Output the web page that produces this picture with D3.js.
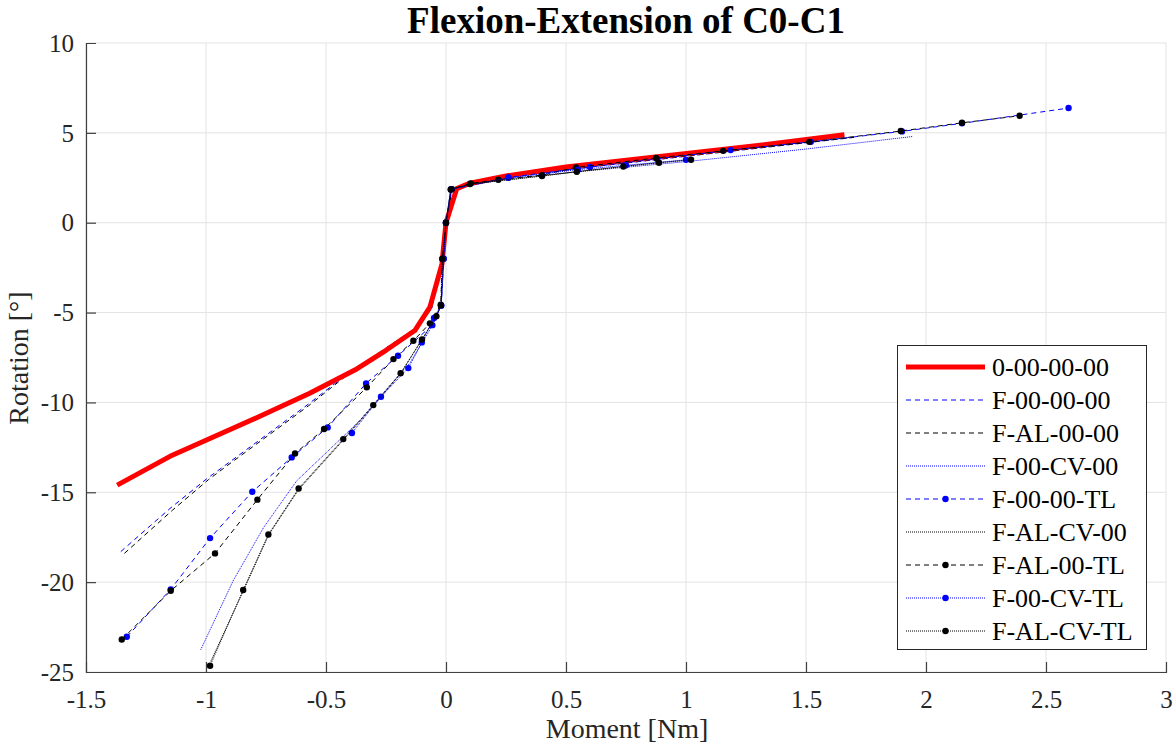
<!DOCTYPE html>
<html><head><meta charset="utf-8">
<script src="https://cdn.jsdelivr.net/npm/d3@7"></script>
<style>body{margin:0;background:#fff}svg{display:block}</style>
</head><body>
<script>
// ---- data ----
const xTicks = [-1.5,-1,-0.5,0,0.5,1,1.5,2,2.5,3];
const xTickLabels = ["-1.5","-1","-0.5","0","0.5","1","1.5","2","2.5","3"];
const yTicks = [-25,-20,-15,-10,-5,0,5,10];
const yTickLabels = ["-25","-20","-15","-10","-5","0","5","10"];
const seriesNames = ["0-00-00-00","F-00-00-00","F-AL-00-00","F-00-CV-00","F-00-00-TL","F-AL-CV-00","F-AL-00-TL","F-00-CV-TL","F-AL-CV-TL"];

const s0_00_00_00 = [[-1.37,-14.6],[-1.15,-13.0],[-1.0,-12.1],[-0.78,-10.8],[-0.57,-9.5],[-0.38,-8.2],[-0.25,-7.1],[-0.13,-6.0],[-0.067,-4.7],[-0.017,-2.3],[0,0],[0.045,1.9],[0.1,2.2],[0.25,2.6],[0.5,3.1],[0.9,3.7],[1.3,4.3],[1.66,4.9]];
const sF_00_00_00 = [[-1.355,-18.3],[-1.15,-15.9],[-0.997,-14.25],[-0.9,-13.3],[-0.574,-10.1],[-0.4,-8.3],[-0.247,-6.95],[-0.13,-5.9],[-0.06,-4.8],[-0.02,-2.2],[0,0],[0.025,1.9],[0.1,2.2],[0.3,2.6],[0.6,3.1],[1.0,3.7],[1.4,4.3],[1.7,4.75]];
const sF_AL_00_00 = [[-1.34,-18.4],[-1.14,-16.0],[-0.99,-14.3],[-0.9,-13.4],[-0.574,-10.2],[-0.4,-8.35],[-0.247,-6.95],[-0.13,-5.9],[-0.06,-4.8],[-0.02,-2.2],[0,0],[0.025,1.9],[0.1,2.2],[0.3,2.6],[0.6,3.1],[1.0,3.7],[1.4,4.3],[1.7,4.75]];
const sF_00_CV_00 = [[-1.022,-23.76],[-0.886,-19.9],[-0.76,-16.96],[-0.622,-14.36],[-0.358,-11.0],[-0.25,-9.3],[-0.15,-7.8],[-0.06,-5.8],[-0.02,-4.6],[-0.008,-2.0],[0,0],[0.02,1.85],[0.25,2.45],[0.6,2.9],[1.0,3.4],[1.5,4.1],[1.946,4.8]];
const sF_00_00_TL = [[-1.33,-23.04],[-1.147,-20.4],[-0.983,-17.55],[-0.807,-14.97],[-0.643,-13.06],[-0.493,-11.39],[-0.333,-8.94],[-0.2,-7.4],[-0.057,-5.7],[-0.02,-4.6],[-0.01,-2.0],[0,0],[0.024,1.87],[0.26,2.52],[0.6,3.1],[0.88,3.55],[1.186,4.04],[1.52,4.5],[1.9,5.08],[2.15,5.53],[2.594,6.38]];
const sF_AL_CV_00 = [[-0.98,-24.4],[-0.845,-20.5],[-0.74,-17.4],[-0.614,-14.85],[-0.428,-12.1],[-0.303,-10.2],[-0.189,-8.4],[-0.1,-6.5],[-0.04,-5.2],[-0.02,-4.5],[-0.01,-2.0],[0,0],[0.02,1.85],[0.1,2.15],[0.4,2.6],[0.545,2.84],[0.739,3.13],[0.8875,3.34],[1.021,3.5]];
const sF_AL_00_TL = [[-1.351,-23.19],[-1.147,-20.48],[-0.9625,-18.4],[-0.786,-15.41],[-0.629,-12.84],[-0.508,-11.48],[-0.33,-9.16],[-0.219,-7.59],[-0.136,-6.57],[-0.067,-5.6],[-0.022,-4.56],[-0.015,-2.0],[0,0],[0.024,1.87],[0.103,2.19],[0.218,2.39],[0.401,2.65],[0.542,3.08],[0.875,3.6],[1.155,4.0],[1.514,4.5],[1.895,5.1],[2.15,5.56],[2.39,5.95]];
const sF_00_CV_TL = [[-0.392,-11.7],[-0.271,-9.68],[-0.157,-8.09],[-0.101,-6.66],[-0.05,-5.3],[-0.02,-4.6],[-0.01,-2.0],[0,0],[0.02,1.85],[0.26,2.5],[0.55,2.95],[0.75,3.2],[1.0,3.5]];
const sF_AL_CV_TL = [[-0.983,-24.65],[-0.845,-20.44],[-0.74,-17.35],[-0.614,-14.79],[-0.428,-12.04],[-0.303,-10.15],[-0.189,-8.37],[-0.1,-6.5],[-0.04,-5.2],[-0.021,-4.6],[-0.015,-2.0],[0,0],[0.02,1.85],[0.1,2.15],[0.4,2.6],[0.545,2.84],[0.739,3.13],[0.8875,3.34],[1.021,3.5]];

const seriesData = [s0_00_00_00,sF_00_00_00,sF_AL_00_00,sF_00_CV_00,sF_00_00_TL,sF_AL_CV_00,sF_AL_00_TL,sF_00_CV_TL,sF_AL_CV_TL];
const styles = [
  {c:"#ff0000", w:5, dash:null, m:false},
  {c:"#0000ff", w:1, dash:"5,4", m:false},
  {c:"#000000", w:1, dash:"5,4", m:false},
  {c:"#0000ff", w:1, dash:"1,1", m:false},
  {c:"#0000ff", w:1, dash:"5,4", m:true},
  {c:"#000000", w:1, dash:"1,1", m:false},
  {c:"#000000", w:1, dash:"5,4", m:true},
  {c:"#0000ff", w:1, dash:"1,1", m:true},
  {c:"#000000", w:1, dash:"1,1", m:true}
];

const W=1172,H=747;
const m={l:86,r:1166,t:43,b:672};
const x=d3.scaleLinear().domain([-1.5,3]).range([m.l,m.r]);
const y=d3.scaleLinear().domain([-25,10]).range([m.b,m.t]);
const svg=d3.select("body").append("svg").attr("width",W).attr("height",H);
const font="'Liberation Serif','Times New Roman',serif";

// grid
svg.append("g").selectAll("line").data(xTicks).join("line")
  .attr("x1",d=>x(d)).attr("x2",d=>x(d)).attr("y1",m.t).attr("y2",m.b)
  .attr("stroke","#e3e3e3").attr("stroke-width",1);
svg.append("g").selectAll("line").data(yTicks).join("line")
  .attr("y1",d=>y(d)).attr("y2",d=>y(d)).attr("x1",m.l).attr("x2",m.r)
  .attr("stroke","#e3e3e3").attr("stroke-width",1);

// axes
const xa=svg.append("g").attr("transform",`translate(0,${m.b})`)
  .call(d3.axisBottom(x).tickValues(xTicks).tickSize(-10).tickPadding(14)
    .tickFormat((d,i)=>xTickLabels[i]));
const ya=svg.append("g").attr("transform",`translate(${m.l},0)`)
  .call(d3.axisLeft(y).tickValues(yTicks).tickSize(-10).tickPadding(12)
    .tickFormat((d,i)=>yTickLabels[i]));
[xa,ya].forEach(a=>{
  a.attr("font-family",font).attr("font-size",25);
  a.select(".domain").attr("stroke","#404040").attr("stroke-width",1.2);
  a.selectAll(".tick line").attr("stroke","#404040").attr("stroke-width",1.2);
  a.selectAll("text").style("font-family",font).style("font-size","25px").attr("fill","#262626");
});
xa.selectAll(".tick").filter(d=>d===3||d===-1.5).select("line").remove();
ya.selectAll(".tick").filter(d=>d===10||d===-25).select("line").remove();
ya.selectAll("text").attr("dy","0.33em");
xa.selectAll("text").attr("y",18).attr("dy","0.71em");

// lines
const line=d3.line().x(d=>x(d[0])).y(d=>y(d[1]));
const order=[1,2,3,0,4,5,6,7,8];
order.forEach(i=>{
  const s=styles[i];
  svg.append("path").datum(seriesData[i]).attr("d",line).attr("fill","none")
    .attr("stroke",s.c).attr("stroke-width",s.w)
    .attr("stroke-dasharray",s.dash).attr("stroke-linejoin","round");
  if(s.m){
    svg.append("g").selectAll("circle").data(seriesData[i]).join("circle")
      .attr("cx",d=>x(d[0])).attr("cy",d=>y(d[1])).attr("r",3.2).attr("fill",s.c);
  }
});

// title
svg.append("text").attr("x",626).attr("y",33).attr("text-anchor","middle")
  .style("font-family",font).attr("font-weight","bold").style("font-size","37px").attr("fill","#000")
  .text("Flexion-Extension of C0-C1");
// axis labels
svg.append("text").attr("x",627).attr("y",738).attr("text-anchor","middle")
  .style("font-family",font).style("font-size","28px").attr("fill","#262626").text("Moment [Nm]");
svg.append("text").attr("transform","translate(28,358) rotate(-90)").attr("text-anchor","middle")
  .style("font-family",font).style("font-size","28px").attr("fill","#262626").text("Rotation [°]");

// legend
const lg=svg.append("g");
lg.append("rect").attr("x",897.5).attr("y",345.5).attr("width",249).attr("height",304)
  .attr("fill","#fff").attr("stroke","#262626").attr("stroke-width",1);
seriesNames.forEach((n,i)=>{
  const yy=367+i*33;
  const s=styles[i];
  lg.append("line").attr("x1",906).attr("x2",985).attr("y1",yy).attr("y2",yy)
    .attr("stroke",s.c).attr("stroke-width",s.w).attr("stroke-dasharray",s.dash);
  if(s.m) lg.append("circle").attr("cx",945.5).attr("cy",yy).attr("r",3.2).attr("fill",s.c);
  lg.append("text").attr("x",992).attr("y",yy).attr("dy","0.35em")
    .style("font-family",font).style("font-size","26px").attr("fill","#000").text(n);
});
</script>
</body></html>
